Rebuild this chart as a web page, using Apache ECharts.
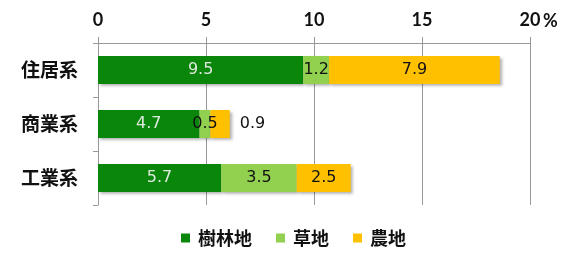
<html>
<head>
    <meta charset="utf-8">
    <title>用途別 緑被内訳</title>
    <style type="text/css">
        body { margin: 0; background: #fff; }
        #chart { width: 565px; height: 255px; }
    </style>
</head>
<body>
    <div id="chart"></div>
</body>
</html>

<script src="https://cdn.jsdelivr.net/npm/echarts@6/dist/echarts.min.js"></script>
<script>

    var categories = ['住居系', '商業系', '工業系'];
    var seriesNames = ['樹林地', '草地', '農地'];
    var forest = [9.5, 4.7, 5.7];
    var grass = [1.2, 0.5, 3.5];
    var farm = [7.9, 0.9, 2.5];
    var xTicks = [0, 5, 10, 15, 20];

    var colors = ['#0a860a', '#92d050', '#ffc000'];
    var labelColors = ['#dfe9df', '#111', '#111'];

    var shadow = {
        shadowBlur: 3,
        shadowOffsetX: 2,
        shadowOffsetY: 2,
        shadowColor: 'rgba(0,0,0,0.35)'
    };

    function makeSeries(i, values) {
        var data = [];
        for (var j = 0; j < values.length; j++) {
            var d = { value: values[j] };
            // 商業系の農地は棒の外側に表示
            if (i == 2 && j == 1) {
                d.label = { position: 'right', distance: 10 };
            }
            data.push(d);
        }
        return {
            name: seriesNames[i],
            type: 'bar',
            stack: 'total',
            barWidth: '52%',
            itemStyle: Object.assign({ color: colors[i] }, shadow),
            label: {
                show: true,
                position: 'inside',
                color: labelColors[i],
                fontSize: 16,
                fontFamily: 'DejaVu Sans',
                formatter: function (p) { return p.value.toFixed(1); }
            },
            data: data
        };
    }

    var chart = echarts.init(document.getElementById('chart'));
    chart.setOption({
        animation: false,
        textStyle: { fontFamily: 'Noto Sans CJK JP' },
        grid: { left: 98, right: 35, top: 43, bottom: 50 },
        legend: {
            bottom: 3,
            left: 176,
            itemWidth: 9,
            itemHeight: 9,
            itemGap: 24,
            icon: 'rect',
            textStyle: { fontSize: 18, fontWeight: 'bold', color: '#111', fontFamily: 'Noto Sans CJK JP', padding: [0, 0, 0, 3] },
            data: seriesNames
        },
        graphic: [{
            type: 'text',
            left: 543,
            top: 12,
            style: { text: '%', fontSize: 18, fontWeight: 'bold', fill: '#111', fontFamily: 'Lato' }
        }],
        xAxis: {
            type: 'value',
            position: 'top',
            min: xTicks[0],
            max: xTicks[xTicks.length - 1],
            interval: 5,
            axisLine: { show: true, lineStyle: { color: '#999' } },
            axisTick: { show: true, length: 6, lineStyle: { color: '#999' } },
            splitLine: { show: true, lineStyle: { color: '#999', width: 1 } },
            axisLabel: {
                color: '#111',
                fontSize: 18,
                fontWeight: 'bold',
                margin: 14,
                fontFamily: 'Lato'
            }
        },
        yAxis: {
            type: 'category',
            inverse: true,
            data: categories,
            axisLine: { show: true, lineStyle: { color: '#999' } },
            axisTick: { show: true, length: 5, lineStyle: { color: '#999' } },
            axisLabel: {
                color: '#111',
                fontSize: 19,
                fontWeight: 'bold',
                margin: 20,
                fontFamily: 'Noto Sans CJK JP'
            }
        },
        series: [
            makeSeries(0, forest),
            makeSeries(1, grass),
            makeSeries(2, farm)
        ]
    });

</script>
